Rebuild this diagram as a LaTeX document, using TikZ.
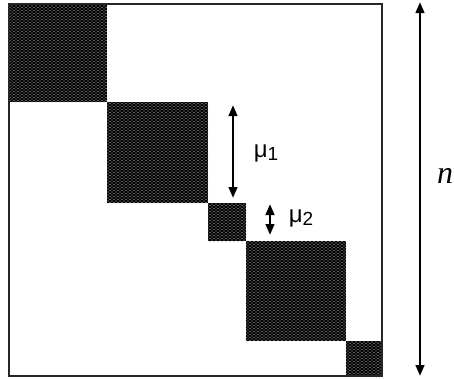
\documentclass[tikz,border=0pt]{standalone}
\usepackage{fontspec}
\setmainfont{Liberation Sans}
\newfontfamily\timesfont{Liberation Serif}
\usetikzlibrary{arrows.meta,patterns.meta}

\tikzdeclarepattern{
  name=blockdots, type=uncolored,
  bottom left={(-.7pt,-.7pt)}, top right={(4.7pt,3.7pt)}, tile size={(4pt,3pt)},
  code={\fill (0pt,0pt) circle (0.6pt); \fill (2pt,1.5pt) circle (0.6pt);}
}

\begin{document}
\begin{tikzpicture}[
  x=1pt, y=-1pt,
  blockfill/.style={preaction={fill=black}, pattern=blockdots, pattern color=white!75!black},
  frameline/.style={draw=black!85, line width=1.3pt},
  sizearrow/.style={line width=2.6pt, {Triangle[length=11pt,width=8.5pt]}-{Triangle[length=11pt,width=8.5pt]}},
  mulabel/.style={font=\fontsize{24}{26}\selectfont, inner sep=0pt}
]
\useasboundingbox (0,0) rectangle (454,378);

% diagonal blocks of the matrix
\foreach \a/\b in {9/107,107/208,208/246,246/346,346/382}
  \path[blockfill] ({\a},{\a-5}) rectangle ({\b},{\b-5});

% outer frame
\draw[frameline] (9,4) rectangle (382,376);

% block sizes
\coordinate (mutop) at (233,105);
\coordinate (mubot) at (233,198);
\draw[sizearrow] (mutop) -- (mubot);
\node[mulabel] (muone) at (266,153) {μ\raisebox{-0.3ex}{\fontsize{19}{20}\selectfont 1}};

\coordinate (mutwotop) at (270,204);
\coordinate (mutwobot) at (270,235);
\draw[sizearrow] (mutwotop) -- (mutwobot);
\node[mulabel] (mutwo) at (301,218) {μ\raisebox{-0.3ex}{\fontsize{19}{20}\selectfont 2}};

% matrix dimension
\coordinate (ntop) at (420,2);
\coordinate (nbot) at (420,376);
\draw[sizearrow] (ntop) -- (nbot);
\node[anchor=west, inner sep=0pt, font=\timesfont\itshape\fontsize{32}{34}\selectfont] (nlab) at (437,176) {n};
\end{tikzpicture}
\end{document}
